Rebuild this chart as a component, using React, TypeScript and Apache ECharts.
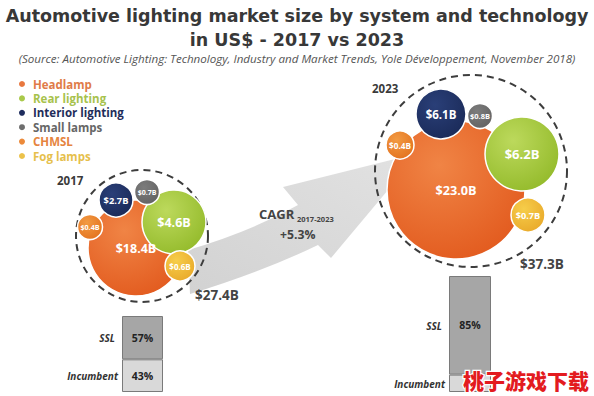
import React, { useEffect, useRef } from "react";
import * as echarts from "echarts";

// ---------- data ----------
const years = ["2017", "2023"];
const systems = ["Headlamp", "Rear lighting", "Interior lighting", "Small lamps", "CHMSL", "Fog lamps"];
const values2017 = [18.4, 4.6, 2.7, 0.7, 0.4, 0.6];
const values2023 = [23.0, 6.2, 6.1, 0.8, 0.4, 0.7];
const totals = [27.4, 37.3];
const cagrPct = 5.3;
const sslShare = [57, 85];
const incumbentShare = [43, 15];

// ---------- layout (positions / sizes, px) ----------
// [cx, cy, radius, labelFontSize]
const layout2017 = [
  [136, 248, 48, 12.5],
  [174, 222, 32, 12.5],
  [116, 200, 17, 9.3],
  [147, 192, 12.5, 7],
  [90, 227, 12.5, 7.2],
  [180, 266, 15, 8],
];
const layout2023 = [
  [456, 190, 69, 12.7],
  [522, 154, 37, 13],
  [441, 114, 25, 11.5],
  [480, 116, 12.5, 7.5],
  [400, 145, 14, 8.2],
  [528, 215, 17, 9.2],
];
const dashed = [
  [142, 236, 66],
  [471, 171, 96],
];
// labels hidden behind the watermark in the reference
const barLabelVisible = [
  [true, true],
  [false, true],
];

// ---------- styles ----------
const gradStops = [
  ["#f08445", "#e25a1e"],
  ["#bcd95c", "#93ba2a"],
  ["#2a3f78", "#1a2a58"],
  ["#7c7c7c", "#626262"],
  ["#f29a42", "#e3721e"],
  ["#f6cd4a", "#e9a92a"],
];
const legendDot = ["#e8783f", "#a9c94a", "#1f2d5e", "#6e6e6e", "#ec8a3a", "#ecc24a"];
const legendText = ["#e07b48", "#a7c24c", "#1f2d5a", "#666666", "#e5843e", "#e6bf4c"];
const FONT = "Open Sans";

export default function App() {
  const ref = useRef<HTMLDivElement>(null);
  useEffect(() => {
    document.body.style.margin = "0";
    if (!ref.current) return;
    const chart = echarts.init(ref.current, undefined, { renderer: "svg" });

    echarts.graphic.registerShape(
      "bigArrow",
      echarts.graphic.extendPath(
        "M188 250 Q250 232 298 205 L283 187 L419 153 L331 258 L318 245 Q262 272 190 294 Z",
        {}
      )
    );

    const bubbleSeries = systems.map((name, i) => ({
      type: "scatter",
      name,
      xAxisIndex: 0,
      yAxisIndex: 0,
      z: 5,
      silent: true,
      data: [
        {
          value: [layout2017[i][0], layout2017[i][1], values2017[i]],
          symbolSize: layout2017[i][2] * 2,
          label: { fontSize: layout2017[i][3] },
        },
        {
          value: [layout2023[i][0], layout2023[i][1], values2023[i]],
          symbolSize: layout2023[i][2] * 2,
          label: { fontSize: layout2023[i][3] },
        },
      ],
      itemStyle: {
        color: new echarts.graphic.RadialGradient(0.38, 0.32, 0.75, [
          { offset: 0, color: gradStops[i][0] },
          { offset: 1, color: gradStops[i][1] },
        ]),
        borderColor: "#ffffff",
        borderWidth: 1.5,
        opacity: 1,
      },
      label: {
        show: true,
        position: "inside",
        color: "#ffffff",
        fontFamily: FONT,
        fontWeight: "bold",
        formatter: (p: any) => "$" + p.value[2].toFixed(1) + "B",
      },
      emphasis: { disabled: true },
    }));

    const barLabel = (show: boolean) => ({
      show,
      position: "inside",
      formatter: "{c}%",
      color: "#222",
      fontFamily: FONT,
      fontWeight: "bold",
      fontSize: 10.5,
    });
    const barSeries: any[] = [];
    years.forEach((y, k) => {
      barSeries.push({
        type: "bar",
        name: "Incumbent " + y,
        xAxisIndex: k + 1,
        yAxisIndex: k + 1,
        stack: "s" + k,
        barWidth: "100%",
        data: [incumbentShare[k]],
        itemStyle: { color: "#d9d9d9", borderColor: "#7a7a7a", borderWidth: 1 },
        label: barLabel(barLabelVisible[k][0]),
        silent: true,
        z: 4,
      });
      barSeries.push({
        type: "bar",
        name: "SSL " + y,
        xAxisIndex: k + 1,
        yAxisIndex: k + 1,
        stack: "s" + k,
        barWidth: "100%",
        data: [sslShare[k]],
        itemStyle: { color: "#a6a6a6", borderColor: "#7a7a7a", borderWidth: 1 },
        label: barLabel(barLabelVisible[k][1]),
        silent: true,
        z: 4,
      });
    });

    const txt = (text: string, x: number, y: number, o: any = {}) => ({
      type: "text",
      x,
      y,
      z: 100,
      silent: true,
      style: {
        text,
        fontFamily: FONT,
        fontWeight: "bold",
        fontSize: 12,
        fill: "#3a3a3a",
        align: "left",
        verticalAlign: "middle",
        ...o,
      },
    });

    const legendTextStyle = { fontFamily: FONT, fontWeight: "bold", fontSize: 11.5, lineHeight: 14 };

    const option: any = {
      animation: false,
      title: [
        {
          text: "Automotive lighting market size by system and technology\nin US$ - 2017 vs 2023",
          left: "center",
          top: 4.5,
          padding: 0,
          textStyle: {
            fontFamily: "DejaVu Sans",
            fontWeight: "bold",
            fontSize: 17.5,
            lineHeight: 23.5,
            color: "#383838",
          },
        },
        {
          text: "(Source: Automotive Lighting: Technology, Industry and Market Trends, Yole Développement, November 2018)",
          left: "center",
          top: 52.8,
          padding: 0,
          textStyle: {
            fontFamily: FONT,
            fontStyle: "italic",
            fontWeight: "normal",
            fontSize: 11.6,
            lineHeight: 11,
            color: "#555555",
          },
        },
      ],
      legend: {
        orient: "vertical",
        left: 19,
        top: 77,
        icon: "circle",
        itemWidth: 12,
        itemHeight: 6,
        itemGap: 0.4,
        selectedMode: false,
        padding: 0,
        itemStyle: { borderWidth: 0 },
        textStyle: legendTextStyle,
        data: systems.map((s, i) => ({
          name: s,
          itemStyle: { color: legendDot[i], borderWidth: 0 },
          textStyle: { ...legendTextStyle, color: legendText[i] },
        })),
      },
      grid: [
        { left: 0, right: 0, top: 0, bottom: 0 },
        { left: 122, width: 41, top: 316, height: 76 },
        { left: 449, width: 42, top: 276, height: 116 },
      ],
      xAxis: [
        { type: "value", gridIndex: 0, min: 0, max: 594, show: false },
        { type: "category", gridIndex: 1, data: [years[0]], show: false },
        { type: "category", gridIndex: 2, data: [years[1]], show: false },
      ],
      yAxis: [
        { type: "value", gridIndex: 0, min: 0, max: 396, inverse: true, show: false },
        { type: "value", gridIndex: 1, min: 0, max: 100, show: false },
        { type: "value", gridIndex: 2, min: 0, max: 100, show: false },
      ],
      series: [...bubbleSeries, ...barSeries],
      graphic: [
        {
          type: "bigArrow",
          x: 0,
          y: 0,
          scaleX: 1,
          scaleY: 1,
          z: 1,
          silent: true,
          style: {
            fill: new echarts.graphic.LinearGradient(0, 1, 1, 0, [
              { offset: 0, color: "#d2d2d2" },
              { offset: 1, color: "#e2e2e2" },
            ]),
          },
        },
        ...dashed.map((d) => ({
          type: "circle",
          z: 3,
          silent: true,
          shape: { cx: d[0], cy: d[1], r: d[2] },
          style: { fill: "none", stroke: "#3d3d3d", lineWidth: 2, lineDash: [7, 5] },
        })),
        txt(years[0], 57, 180, { fontSize: 11.5 }),
        txt(years[1], 372, 88, { fontSize: 11.5 }),
        txt("$" + totals[0].toFixed(1) + "B", 195, 295, { fontSize: 13.5, fill: "#444" }),
        txt("$" + totals[1].toFixed(1) + "B", 520, 264, { fontSize: 13.5, fill: "#444" }),
        txt("CAGR", 259, 214, { fontSize: 13, fill: "#444" }),
        txt("2017-2023", 297, 219, { fontSize: 7.5, fill: "#444" }),
        txt("+" + cagrPct.toFixed(1) + "%", 280, 234, { fontSize: 12.2, fill: "#444" }),
        txt("SSL", 115, 338, { fontSize: 10, fontStyle: "italic", align: "right", fill: "#333" }),
        txt("Incumbent", 118, 376, { fontSize: 10, fontStyle: "italic", align: "right", fill: "#333" }),
        txt("SSL", 442, 326, { fontSize: 10, fontStyle: "italic", align: "right", fill: "#333" }),
        txt("Incumbent", 445, 384, { fontSize: 10, fontStyle: "italic", align: "right", fill: "#333" }),
        txt("桃子游戏下载", 463, 380, {
          fontFamily: "Noto Sans CJK SC",
          fontWeight: 900,
          fontSize: 21,
          fill: "#e31b1f",
          stroke: "#ffffff",
          lineWidth: 2.5,
        }),
      ],
    };
    chart.setOption(option);
    return () => chart.dispose();
  }, []);
  return <div ref={ref} style={{ width: 594, height: 396 }} />;
}
